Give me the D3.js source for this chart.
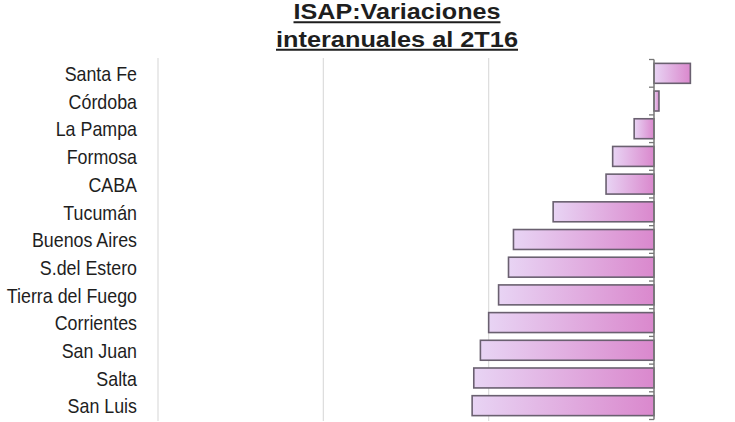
<!DOCTYPE html>
<html><head><meta charset="utf-8">
<script src="https://cdn.jsdelivr.net/npm/d3@7"></script>
<style>body{margin:0;background:#fff}svg{display:block}</style>
</head><body>
<script>
const titleLines = ["ISAP:Variaciones", "interanuales al 2T16"];
const provinces = ["Santa Fe","Córdoba","La Pampa","Formosa","CABA","Tucumán","Buenos Aires","S.del Estero","Tierra del Fuego","Corrientes","San Juan","Salta","San Luis"];
const variations = [2.2, 0.3, -1.2, -2.5, -2.9, -6.1, -8.5, -8.8, -9.4, -10.0, -10.5, -10.9, -11.0];
const gridTicks = [-30, -20, -10];

const W = 735, H = 422;
const svg = d3.select("body").append("svg").attr("width", W).attr("height", H);

const defs = svg.append("defs");
const grad = defs.append("linearGradient").attr("id","barGrad").attr("x1","0").attr("x2","1").attr("y1","0").attr("y2","0");
grad.append("stop").attr("offset","0%").attr("stop-color","#e8d4f4");
grad.append("stop").attr("offset","100%").attr("stop-color","#da88cd");

const x = d3.scaleLinear().domain([-30, 0]).range([158, 654]);
const y = d3.scaleBand().domain(provinces).range([59.5, 419.5]).paddingInner(0.28).paddingOuter(0.14);

// gridlines
svg.append("g").selectAll("line").data(gridTicks).join("line")
  .attr("x1", d => x(d)).attr("x2", d => x(d))
  .attr("y1", 58).attr("y2", 421)
  .attr("stroke", "#dcdcdc").attr("stroke-width", 1.2);

// bars
const data = provinces.map((p, i) => ({p, v: variations[i]}));
svg.append("g").selectAll("rect").data(data).join("rect")
  .attr("x", d => x(Math.min(0, d.v)))
  .attr("width", d => Math.abs(x(d.v) - x(0)))
  .attr("y", d => y(d.p))
  .attr("height", y.bandwidth())
  .attr("fill", "url(#barGrad)")
  .attr("stroke", "#6a6070").attr("stroke-width", 1.6);

// zero axis with ticks at band edges
const edges = provinces.map(p => y(p) - y.step() * y.paddingInner() / 2);
edges.push(y(provinces[provinces.length - 1]) + y.bandwidth() + y.step() * y.paddingInner() / 2);
const ax = svg.append("g");
ax.append("line").attr("x1", x(0)).attr("x2", x(0)).attr("y1", edges[0]).attr("y2", edges[edges.length-1])
  .attr("stroke", "#777").attr("stroke-width", 1.5);
ax.selectAll("line.tk").data(edges).join("line").attr("class","tk")
  .attr("x1", x(0) - 5).attr("x2", x(0))
  .attr("y1", d => d).attr("y2", d => d)
  .attr("stroke", "#777").attr("stroke-width", 1.3);

// category labels
const lab = svg.append("g").attr("transform", "translate(137,0) scale(0.85,1)");
lab.selectAll("text").data(provinces).join("text")
  .attr("x", 0).attr("y", d => y(d) + y.bandwidth() / 2)
  .attr("dy", "0.37em")
  .attr("text-anchor", "end")
  .attr("font-family", "Liberation Sans, Arial, sans-serif")
  .attr("font-size", 21)
  .attr("fill", "#1e1e1e")
  .text(d => d);

// title
const titleW = [207, 242];
const titleY = [19, 46.5];
const cx = 397;
titleLines.forEach((t, i) => {
  svg.append("text")
    .attr("x", cx - titleW[i] / 2).attr("y", titleY[i])
    .attr("textLength", titleW[i]).attr("lengthAdjust", "spacingAndGlyphs")
    .attr("font-family", "Liberation Sans, Arial, sans-serif")
    .attr("font-weight", "bold").attr("font-size", 22.5)
    .attr("fill", "#1e1e1e").text(t);
  svg.append("line")
    .attr("x1", cx - titleW[i] / 2).attr("x2", cx + titleW[i] / 2)
    .attr("y1", titleY[i] + 3.2).attr("y2", titleY[i] + 3.2)
    .attr("stroke", "#1e1e1e").attr("stroke-width", 2);
});
</script>
</body></html>
